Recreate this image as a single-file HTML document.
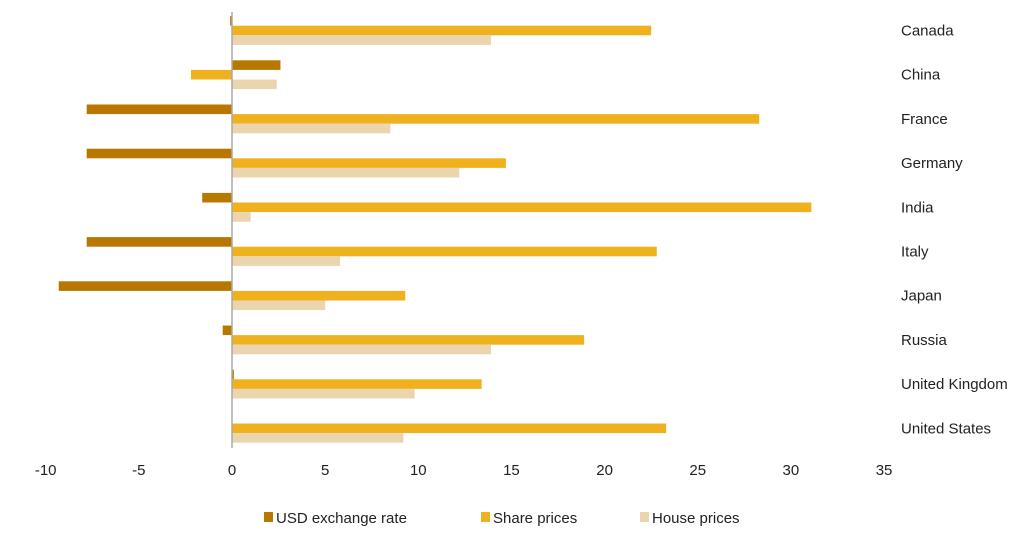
<!DOCTYPE html>
<html><head><meta charset="utf-8"><style>
body{margin:0;background:#fff;font-family:"Liberation Sans",sans-serif;}
svg text{font-family:"Liberation Sans",sans-serif;fill:#222;}
</style></head><body>
<svg id="chart" width="1024" height="532" xmlns="http://www.w3.org/2000/svg"></svg>
<script>
const categories=["Canada","China","France","Germany","India","Italy","Japan","Russia","United Kingdom","United States"];
const usd=[-0.1,2.6,-7.8,-7.8,-1.6,-7.8,-9.3,-0.5,0.1,0];
const share=[22.5,-2.2,28.3,14.7,31.1,22.8,9.3,18.9,13.4,23.3];
const house=[13.9,2.4,8.5,12.2,1.0,5.8,5.0,13.9,9.8,9.2];
const ticks=[-10,-5,0,5,10,15,20,25,30,35];
const series=[{name:"USD exchange rate",vals:usd,color:"#b87800"},{name:"Share prices",vals:share,color:"#efb21e"},{name:"House prices",vals:house,color:"#ead5ae"}];
const NS="http://www.w3.org/2000/svg";
const svg=document.getElementById('chart');
const x=v=>232+v*18.63;
const yc=i=>30.5+i*44.2;
const BH=9.6;
function mk(t,a){const e=document.createElementNS(NS,t);for(const k in a)e.setAttribute(k,a[k]);svg.appendChild(e);return e;}
categories.forEach((c,i)=>{
  series.forEach((s,j)=>{
    const v=s.vals[i];
    const r=mk('rect',{x:Math.min(x(0),x(v)),y:yc(i)+(j-1)*BH-BH/2,width:Math.max(Math.abs(x(v)-x(0)),v===0?0:1.5),height:BH,fill:s.color});
    
    
  });
  const t=mk('text',{x:901,y:yc(i)+5,'font-size':15});
  t.textContent=c;
  
  
});
const ax=mk('line',{x1:x(0),x2:x(0),y1:12,y2:448,stroke:'#aaa','stroke-width':1.5});


ticks.forEach(v=>{
  const t=mk('text',{x:x(v),y:475,'font-size':15,'text-anchor':'middle'});
  t.textContent=v;
  
  
});
const lx=[264,481,640];
series.forEach((s,j)=>{
  const r=mk('rect',{x:lx[j],y:512,width:9,height:10,fill:s.color});
  
  
  const t=mk('text',{x:lx[j]+12,y:523,'font-size':15});
  t.textContent=s.name;
  
  
});
</script>
</body></html>
